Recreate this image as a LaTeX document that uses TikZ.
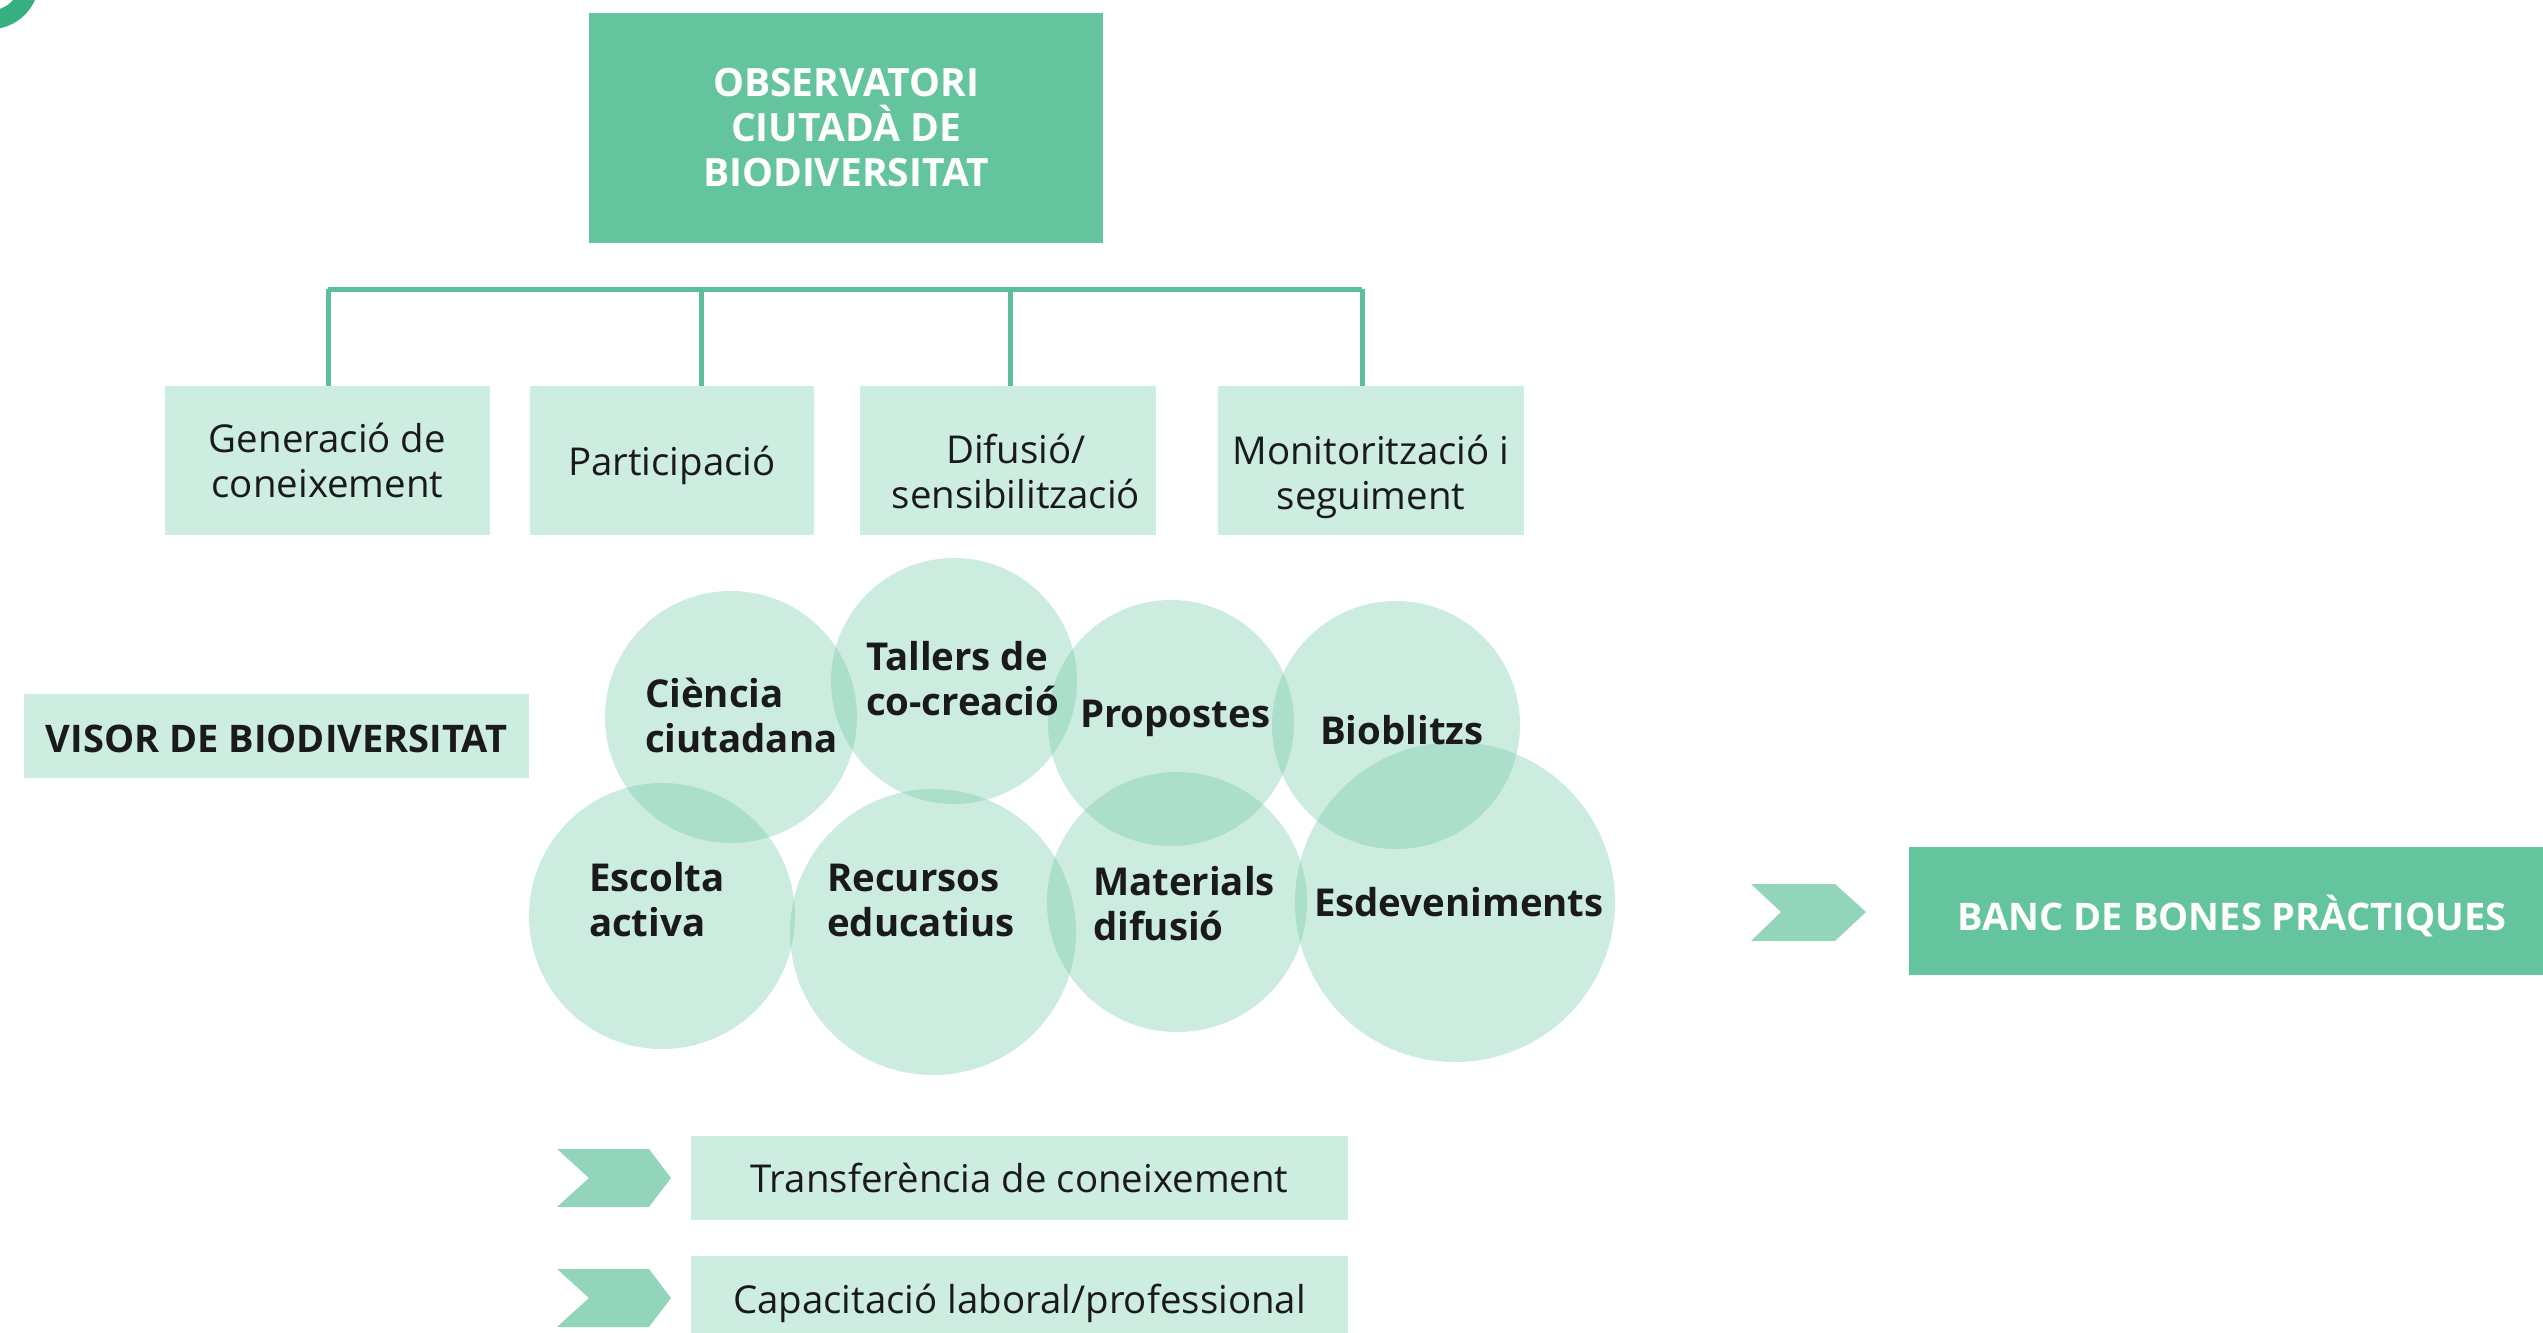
\documentclass[tikz,border=0pt]{standalone}
\usepackage{fontspec}
\setmainfont{Open Sans}
\definecolor{dkgreen}{HTML}{63C49E}
\definecolor{ltgreen}{HTML}{CDEDE0}
\definecolor{chevgreen}{HTML}{92D5BA}
\definecolor{linegreen}{HTML}{5DBF99}
\definecolor{ringgreen}{HTML}{36B080}
\definecolor{txt}{HTML}{1A1A1A}
\begin{document}
\begin{tikzpicture}[x=0.5pt,y=-0.5pt,
  every node/.style={inner sep=0pt, outer sep=0pt},
  darkbox/.style={fill=dkgreen, text=white, align=center, font=\bfseries\fontsize{19.5}{22.5}\selectfont},
  lightbox/.style={fill=ltgreen, text=txt, align=center, font=\fontsize{19.2}{22.5}\selectfont},
  boxtext/.style={text=txt, align=center, font=\fontsize{19.2}{22.5}\selectfont},
  circ/.style={circle, fill=dkgreen, fill opacity=0.32},
  clabel/.style={anchor=west, align=left, text=txt, font=\bfseries\fontsize{19.2}{22.5}\selectfont},
  chev/.style={fill=chevgreen},
  bar/.style={draw=linegreen, line width=2.5pt}]
\useasboundingbox (0,0) rectangle (2543,1333);
\clip (0,0) rectangle (2543,1333);
% corner ring
\draw[ringgreen, line width=9.35pt] (-10,-20) circle (19.95pt);
% top box
\node[darkbox, minimum width=257pt, minimum height=115pt] (obs) at (846,128) {OBSERVATORI\\CIUTADÀ DE\\BIODIVERSITAT};
% category boxes
\node[lightbox, minimum width=162.5pt, minimum height=74.5pt] (g1) at (327.5,460.5) {Generació de\\coneixement};
\node[lightbox, minimum width=142pt, minimum height=74.5pt] (g2) at (672,460.5) {};
\node[lightbox, minimum width=148pt, minimum height=74.5pt] (g3) at (1008,460.5) {};
\node[lightbox, minimum width=153pt, minimum height=74.5pt] (g4) at (1371,460.5) {};
\node[boxtext] (g2t) at ([yshift=-2.5pt]g2.center) {Participació};
\node[boxtext] (g3t) at ([xshift=4pt,yshift=-5.5pt]g3.center) {Difusió/\\sensibilització};
\node[boxtext] (g4t) at ([yshift=-8pt]g4.center) {Monitorització i\\seguiment};
% bracket
\coordinate (b1) at (328,289);
\coordinate (b2) at (701,289);
\coordinate (b3) at (1010,289);
\coordinate (b4) at (1362,289);
\draw[bar] (b1) -- (b4);
\draw[bar] (b1) -- (b1 |- g1.north);
\draw[bar] (b2) -- (b2 |- g2.north);
\draw[bar] (b3) -- (b3 |- g3.north);
\draw[bar] (b4) -- (b4 |- g4.north);
% visor
\node[lightbox, minimum width=252.5pt, minimum height=42pt] (visor) at (276.5,736) {};
\node[boxtext, font=\bfseries\fontsize{19}{22.5}\selectfont] (visort) at ([yshift=-1.5pt]visor.center) {VISOR DE BIODIVERSITAT};
% circles
\node[circ, minimum size=126pt] (c1) at (731,717) {};
\node[circ, minimum size=123pt] (c2) at (954,681) {};
\node[circ, minimum size=123pt] (c3) at (1171,723) {};
\node[circ, minimum size=124pt] (c4) at (1396,725) {};
\node[circ, minimum size=133pt] (c5) at (662,916) {};
\node[circ, minimum size=143pt] (c6) at (933,932) {};
\node[circ, minimum size=130pt] (c7) at (1177,902) {};
\node[circ, minimum size=160pt] (c8) at (1455,902) {};
% circle labels
\node[clabel] (l1) at (645,715) {Ciència\\ciutadana};
\node[clabel] (l2) at (866,679) {Tallers de\\co-creació};
\node[clabel] (l3) at (1080,718) {Propostes};
\node[clabel] (l4) at (1320,730) {Bioblitzs};
\node[clabel] (l5) at (589,900) {Escolta\\activa};
\node[clabel] (l6) at (827,900) {Recursos\\educatius};
\node[clabel] (l7) at (1093,904) {Materials\\difusió};
\node[clabel] (l8) at (1314,902) {Esdeveniments};
% banc
\fill[chev] (1751,884) -- (1835,884) -- (1866,912) -- (1835,941) -- (1751,941) -- (1781,912) -- cycle;
\node[darkbox, minimum width=317pt, minimum height=64pt] (banc) at (2226,911) {};
\node[boxtext, text=white, font=\bfseries\fontsize{19}{22.5}\selectfont] (banct) at ([xshift=3pt,yshift=-2.5pt]banc.center) {BANC DE BONES PRÀCTIQUES};
% bottom
\fill[chev] (557,1149) -- (649,1149) -- (671,1178) -- (649,1207) -- (557,1207) -- (589,1178) -- cycle;
\fill[chev] (557,1269) -- (649,1269) -- (671,1298) -- (649,1327) -- (557,1327) -- (589,1298) -- cycle;
\node[lightbox, minimum width=328.5pt, minimum height=42pt] (tr) at (1019.5,1178) {Transferència de coneixement};
\node[lightbox, minimum width=328.5pt, minimum height=47pt] (cap) at (1019.5,1303) {Capacitació laboral/professional};
\end{tikzpicture}
\end{document}
